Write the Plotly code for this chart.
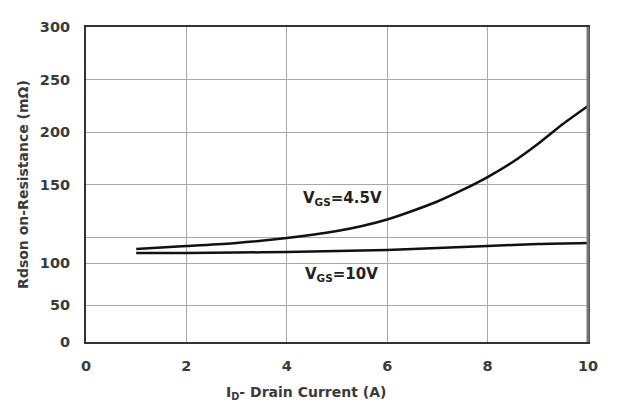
import plotly.graph_objects as go

# Data (drain current in A, Rdson in mOhm on the chart's linear frame)
current_a = [1, 2, 3, 4, 5, 5.5, 6, 6.5, 7, 7.5, 8, 8.5, 9, 9.5, 10]
rdson_vgs45 = [88.6, 91.4, 94.3, 99.0, 105.7, 110.5, 116.7, 124.8, 133.8, 144.8, 157.1, 171.4, 188.6, 207.6, 224.8]

current_b = [1, 2, 3, 4, 5, 6, 7, 8, 9, 10]
rdson_vgs10 = [84.8, 84.8, 85.2, 85.7, 86.7, 87.6, 89.5, 91.4, 93.3, 94.3]

x_ticks = [0, 2, 4, 6, 8, 10]
y_tick_vals = [0, 35, 75, 100, 150, 200, 250, 300]
y_tick_text = ["0", "50", "100", "", "150", "200", "250", "300"]

label_45 = "V<sub>GS</sub>=4.5V"
label_10 = "V<sub>GS</sub>=10V"
x_title = "I<sub>D</sub>- Drain Current (A)"
y_title = "Rdson on-Resistance (mΩ)"

FONT = "DejaVu Sans, Verdana, sans-serif"
TXT = "#3a3a3a"

fig = go.Figure()
fig.add_trace(go.Scatter(x=current_a, y=rdson_vgs45, mode="lines",
                         line=dict(color="#111111", width=2.5, shape="spline", smoothing=0.8),
                         showlegend=False, hoverinfo="skip"))
fig.add_trace(go.Scatter(x=current_b, y=rdson_vgs10, mode="lines",
                         line=dict(color="#111111", width=2.5, shape="spline", smoothing=0.8),
                         showlegend=False, hoverinfo="skip"))

fig.add_annotation(x=5.1, y=137, text=label_45, showarrow=False,
                   font=dict(family=FONT, size=15, color="#222", weight="bold"))
fig.add_annotation(x=5.08, y=64, text=label_10, showarrow=False,
                   font=dict(family=FONT, size=15, color="#222", weight="bold"))

# x-axis title (offset left of centre, as in the reference)
fig.add_annotation(xref="paper", yref="paper", x=0.438, y=-0.162, text=x_title,
                   showarrow=False, xanchor="center", yanchor="middle",
                   font=dict(family=FONT, size=14, color=TXT, weight="bold"))

# thicker grey right edge of frame
fig.add_shape(type="line", xref="paper", yref="paper", x0=1, x1=1, y0=0, y1=1,
              line=dict(color="#777777", width=3))

fig.update_xaxes(range=[0, 10], tickvals=x_ticks, showgrid=True,
                 gridcolor="#a8a8a8", gridwidth=1.3, zeroline=False,
                 showline=True, linecolor="#333333", linewidth=2, mirror=True,
                 ticks="outside", ticklen=10, tickcolor="rgba(0,0,0,0)",
                 tickfont=dict(family=FONT, size=14.5, color=TXT, weight="bold"))
fig.update_yaxes(range=[0, 300], tickvals=y_tick_vals, ticktext=y_tick_text,
                 showgrid=True, gridcolor="#a8a8a8", gridwidth=1.3, zeroline=False,
                 showline=True, linecolor="#333333", linewidth=2, mirror=True,
                 ticks="outside", ticklen=11, tickcolor="rgba(0,0,0,0)",
                 tickfont=dict(family=FONT, size=14.5, color=TXT, weight="bold"),
                 title=dict(text=y_title, standoff=8,
                            font=dict(family=FONT, size=14, color=TXT, weight="bold")))

fig.update_layout(width=625, height=412,
                  margin=dict(l=78, r=45, t=19, b=78),
                  paper_bgcolor="white", plot_bgcolor="white")

fig.write_html("out.html")
